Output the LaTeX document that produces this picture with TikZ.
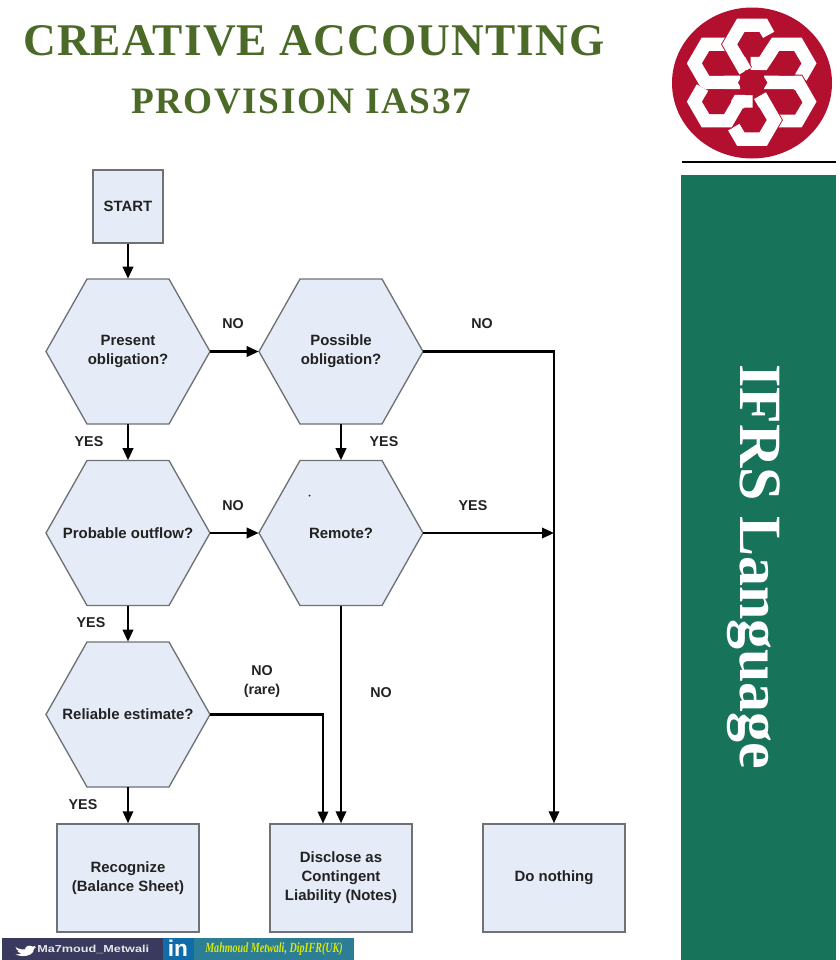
\documentclass[tikz,border=0pt]{standalone}
\usepackage{fontspec}
\usetikzlibrary{arrows.meta,calc}
\setmainfont{Liberation Serif}
\setsansfont{Liberation Sans}
\newfontfamily\titlefont[LetterSpace=2.5]{Liberation Serif}
\newfontfamily\subfont[LetterSpace=4]{Liberation Serif}
\newfontfamily\wideb[FakeStretch=1.25]{Liberation Sans}
\newfontfamily\narrowi[FakeStretch=0.72]{Liberation Serif}
\definecolor{boxfill}{HTML}{E6ECF7}
\definecolor{boxline}{HTML}{6E7176}
\definecolor{titlegreen}{HTML}{4B6A27}
\definecolor{panelgreen}{HTML}{17745A}
\definecolor{crimson}{HTML}{B3102F}
\definecolor{inktext}{HTML}{222222}
\definecolor{barslate}{HTML}{3A3A5E}
\definecolor{barblue}{HTML}{0F6CA8}
\definecolor{barteal}{HTML}{2C7D96}
\tikzset{
  x=0.75pt,y=-0.75pt,
  flowbox/.style={draw=boxline,fill=boxfill,line width=1.1pt,font=\sffamily\bfseries\fontsize{11.2}{14.25}\selectfont,text=inktext,align=center,inner sep=0pt},
  hexshape/.style={draw=boxline,fill=boxfill,line width=1pt},
  hexlabel/.style={font=\sffamily\bfseries\fontsize{11.2}{14.25}\selectfont,text=inktext,align=center,inner sep=0pt,minimum width=123pt,minimum height=108.75pt},
  lab/.style={font=\sffamily\bfseries\fontsize{10.7}{14.25}\selectfont,text=inktext,align=center,inner sep=0pt},
  flow/.style={line width=1.7pt,black,-{Triangle[length=9pt,width=7.8pt]}},
  band/.style={line join=miter,miter limit=10,line cap=butt},
}
\newcommand{\hexn}[4]{%
  \draw[hexshape] (#2-82,#3) -- (#2-41,#3-72.5) -- (#2+41,#3-72.5) -- (#2+82,#3) -- (#2+41,#3+72.5) -- (#2-41,#3+72.5) -- cycle;
  \node[hexlabel] (#1) at (#2,#3) {#4};
}
\newcommand{\knot}[1]{%
  \draw[band,crimson,line width=11.6pt] #1;
  \draw[band,white,line width=10.2pt] #1;
}
\newcommand{\hole}[2]{%
  \fill[crimson] (#1-44,#2) -- (#1-22,#2-37) -- (#1+22,#2-37) -- (#1+44,#2) -- (#1+22,#2+37) -- (#1-22,#2+37) -- cycle;
}
\begin{document}
\begin{tikzpicture}
\useasboundingbox (0,0) rectangle (839,960);
% titles
\node[font=\titlefont\bfseries\fontsize{34}{38}\selectfont,text=titlegreen,inner sep=0pt] (title) at (314,41) {CREATIVE ACCOUNTING};
\node[font=\subfont\bfseries\fontsize{28}{32}\selectfont,text=titlegreen,inner sep=0pt] (subtitle) at (301,101) {PROVISION IAS37};
% logo
\fill[crimson] (752,83) ellipse (80 and 75.5);
\begin{scope}[shift={(660,0)},x=0.25pt,y=-0.25pt]
\knot{(198,133)--(137,133)--(104,190)--(137,247)--(240,247)}
\knot{(272,190)--(309,190)--(347,133)--(413,133)--(446,190)--(422,232)}
\knot{(312,247)--(413,247)--(446,305)--(413,362)--(350,362)}
\knot{(300,287)--(342,360)--(309,417)--(243,417)--(222,381)}
\knot{(278,305)--(236,305)--(203,362)--(137,362)--(104,305)--(128,263)}
\knot{(325,105)--(309,76)--(243,76)--(210,133)--(256,213)}
\hole{276}{133}\hole{170}{190}\hole{380}{190}\hole{278}{248}\hole{170}{305}\hole{383}{307}\hole{276}{360}
\end{scope}
% right panel
\draw[black,line width=1.5pt] (682,162) -- (836,162);
\fill[panelgreen] (681,175) rectangle (836,960);
\node[rotate=-90,font=\rmfamily\bfseries\fontsize{45}{50}\selectfont,text=white,inner sep=0pt] (side) at (754,567) {IFRS Language};
% flow nodes
\node[flowbox,minimum width=52.5pt,minimum height=54.75pt] (start) at (128,206.5) {START};
\hexn{present}{128}{351.5}{Present\\obligation?}
\hexn{possible}{341}{351.5}{Possible\\obligation?}
\hexn{probable}{128}{533}{Probable outflow?}
\hexn{remote}{341}{533}{Remote?}
\hexn{reliable}{128}{714.5}{Reliable estimate?}
\node[flowbox,minimum width=106.5pt,minimum height=81pt] (recognize) at (128,878) {Recognize\\(Balance Sheet)};
\node[flowbox,minimum width=106.5pt,minimum height=81pt] (disclose) at (341,878) {Disclose as\\Contingent\\Liability (Notes)};
\node[flowbox,minimum width=106.5pt,minimum height=81pt] (nothing) at (554,878) {Do nothing};
\coordinate (join) at (554,533);
\coordinate (discin) at (323,823.5);
% connectors
\draw[flow] (start) -- (present);
\draw[flow] (present) -- (probable);
\draw[flow] (probable) -- (reliable);
\draw[flow] (reliable) -- (recognize);
\draw[flow] (present) -- (possible);
\draw[flow] (possible) -- (remote);
\draw[flow] (probable) -- (remote);
\draw[flow] (remote.east) -- (join);
\draw[flow] (possible.east) -| (nothing.north);
\draw[flow] (remote.south) -- (disclose.north);
\draw[flow] (reliable.east) -| (discin);
% labels
\node[lab] (l1) at (233,324) {NO};
\node[lab] (l2) at (89,442) {YES};
\node[lab] (l3) at (482,324) {NO};
\node[lab] (l4) at (384,442) {YES};
\node[lab] (l5) at (233,505.5) {NO};
\node[lab] (l6) at (473,505.5) {YES};
\node[lab] (l7) at (91,623) {YES};
\node[lab] (l8) at (262,681) {NO\\(rare)};
\node[lab] (l9) at (381,693) {NO};
\node[lab] (l10) at (83,805) {YES};
\fill[blue] (309.5,495.5) circle (1);
% social bar
\fill[barslate] (2,938) rectangle (163,960);
\fill[barblue] (163,938) rectangle (194,960);
\fill[barteal] (194,938) rectangle (354,960);
\begin{scope}[shift={(0,189)},y=-0.6pt]
\fill[white] (15,947) .. controls (18,950) and (22,951) .. (25,950.5) .. controls (25,946) and (30,944.5) .. (32.5,947) .. controls (33.5,946.8) and (34.5,946.5) .. (35.5,946) .. controls (35,947) and (34.5,947.8) .. (33.8,948.3) .. controls (34.5,948.2) and (35.2,948) .. (36,947.6) .. controls (35.5,948.5) and (34.8,949.2) .. (34,949.8) .. controls (34,956) and (28,959) .. (23,958.8) .. controls (20,958.8) and (17.5,958) .. (15.5,956.8) .. controls (18,957) and (20,956.3) .. (21.5,955.2) .. controls (19.5,955) and (18,954) .. (17.5,952.5) .. controls (18.2,952.6) and (18.8,952.6) .. (19.4,952.4) .. controls (17.2,951.8) and (16,950.2) .. (16,948.5) .. controls (16.6,948.8) and (17.2,949) .. (17.9,949) .. controls (16.5,949) and (15.2,948) .. (15,947) -- cycle;
\end{scope}
\node[font=\wideb\bfseries\fontsize{7.6}{9}\selectfont,text=white!90!black,inner sep=0pt,anchor=west] (handle) at (37,949.5) {Ma7moud\_Metwali};
\node[font=\sffamily\bfseries\fontsize{17}{18}\selectfont,text=white,inner sep=0pt] (in) at (178,948) {in};
\node[font=\narrowi\bfseries\itshape\fontsize{10.5}{12}\selectfont,text=yellow!85!green,inner sep=0pt] (author) at (274,949.5) {Mahmoud Metwali, DipIFR(UK)};
\end{tikzpicture}
\end{document}
